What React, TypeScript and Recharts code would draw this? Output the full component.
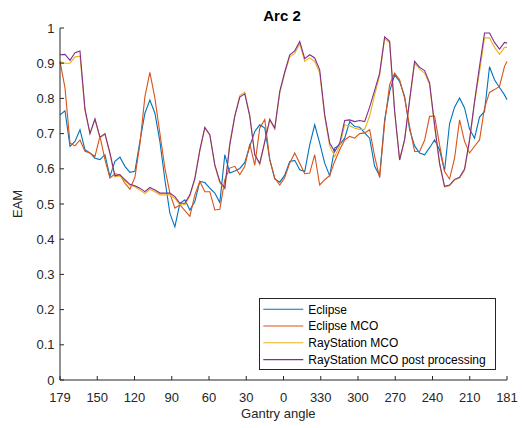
import React from "react";
import { LineChart, Line, XAxis, YAxis } from "recharts";

// gantry angle of every sample, going 179 -> 0 -> 360 -> 181
const gantryAngles = [
  179, 175, 171, 167, 163, 159, 155, 151, 147, 143,
  139, 135, 131, 127, 123, 119, 115, 111, 107, 103,
  99, 95, 91, 87, 83, 79, 75, 71, 67, 63,
  59, 55, 51, 47, 43, 39, 35, 31, 27, 23,
  19, 15, 11, 7, 3, 359, 355, 351, 347, 343,
  339, 335, 331, 327, 323, 319, 315, 311, 307, 303,
  299, 295, 291, 287, 283, 279, 275, 271, 267, 263,
  259, 255, 251, 247, 243, 239, 235, 231, 227, 223,
  219, 215, 211, 207, 203, 199, 195, 191, 187, 183,
  181,
];

const eclipse = [
  0.753, 0.765, 0.664, 0.678, 0.711, 0.654, 0.645, 0.63, 0.626, 0.64,
  0.578, 0.621, 0.633, 0.607, 0.59, 0.593, 0.678, 0.758, 0.795, 0.758,
  0.678, 0.569, 0.474, 0.435, 0.502, 0.512, 0.483, 0.507, 0.564, 0.561,
  0.545, 0.531, 0.504, 0.64, 0.588, 0.594, 0.601, 0.618, 0.664, 0.706,
  0.725, 0.716, 0.626, 0.571, 0.562, 0.582, 0.621, 0.624, 0.597, 0.592,
  0.668, 0.725, 0.673, 0.616, 0.58, 0.659, 0.668, 0.687, 0.734, 0.72,
  0.718, 0.702, 0.687, 0.607, 0.58, 0.739, 0.82, 0.867, 0.848, 0.806,
  0.711, 0.665, 0.645, 0.64, 0.66, 0.682, 0.654, 0.595, 0.728, 0.775,
  0.801, 0.773, 0.713, 0.687, 0.747, 0.763, 0.89, 0.853, 0.831, 0.81,
  0.796,
];

const eclipseMco = [
  0.905, 0.83, 0.673, 0.665, 0.682, 0.65, 0.645, 0.635, 0.692, 0.626,
  0.574, 0.586, 0.583, 0.559, 0.542, 0.576, 0.67, 0.805, 0.874, 0.801,
  0.701, 0.602, 0.531, 0.488, 0.498, 0.481, 0.465, 0.526, 0.564, 0.535,
  0.535, 0.483, 0.485, 0.569, 0.602, 0.607, 0.583, 0.607, 0.671, 0.61,
  0.716, 0.74, 0.626, 0.574, 0.554, 0.575, 0.616, 0.645, 0.616, 0.586,
  0.588, 0.64, 0.554, 0.569, 0.581, 0.621, 0.654, 0.682, 0.692, 0.687,
  0.7, 0.702, 0.711, 0.635, 0.575, 0.73, 0.839, 0.872, 0.853, 0.801,
  0.72, 0.649, 0.649, 0.681, 0.749, 0.75, 0.668, 0.592, 0.571, 0.63,
  0.739, 0.678, 0.645, 0.664, 0.682, 0.773, 0.817, 0.825, 0.834, 0.891,
  0.905,
];

const rayStationMco = [
  0.905, 0.9, 0.9, 0.918, 0.92, 0.765, 0.7, 0.74, 0.688, 0.698,
  0.642, 0.578, 0.58, 0.566, 0.553, 0.549, 0.54, 0.53, 0.542, 0.535,
  0.526, 0.526, 0.526, 0.516, 0.498, 0.498, 0.522, 0.57, 0.65, 0.716,
  0.695, 0.609, 0.56, 0.543, 0.675, 0.752, 0.808, 0.818, 0.752, 0.64,
  0.612, 0.675, 0.738, 0.712, 0.815, 0.872, 0.918, 0.928, 0.955, 0.905,
  0.915, 0.905, 0.872, 0.748, 0.665, 0.635, 0.665, 0.725, 0.722, 0.715,
  0.712, 0.712, 0.75, 0.81, 0.865, 0.97, 0.958, 0.762, 0.625, 0.683,
  0.792, 0.9, 0.883, 0.872, 0.84, 0.72, 0.612, 0.548, 0.552, 0.568,
  0.574, 0.596, 0.68, 0.788, 0.875, 0.972, 0.972, 0.945, 0.925, 0.945,
  0.945,
];

const rayStationPost = [
  0.924, 0.925, 0.908, 0.93, 0.935, 0.77, 0.7, 0.742, 0.69, 0.7,
  0.645, 0.58, 0.583, 0.569, 0.556, 0.552, 0.545, 0.535, 0.547, 0.54,
  0.531, 0.531, 0.531, 0.521, 0.502, 0.502, 0.526, 0.573, 0.654, 0.718,
  0.697, 0.611, 0.564, 0.545, 0.668, 0.749, 0.804, 0.813, 0.749, 0.64,
  0.616, 0.678, 0.741, 0.716, 0.82, 0.875, 0.924, 0.935, 0.962, 0.913,
  0.924, 0.915, 0.881, 0.754, 0.673, 0.649, 0.673, 0.737, 0.739, 0.734,
  0.737, 0.734, 0.775, 0.823, 0.872, 0.975, 0.962, 0.765, 0.625, 0.683,
  0.796, 0.905, 0.888, 0.879, 0.844, 0.725, 0.616, 0.55, 0.554, 0.57,
  0.576, 0.599, 0.682, 0.791, 0.891, 0.986, 0.986, 0.959, 0.94, 0.959,
  0.957,
];

const xTickLabels = ["179", "150", "120", "90", "60", "30", "0", "330", "300", "270", "240", "210", "181"];
const yTicks = [0, 0.1, 0.2, 0.3, 0.4, 0.5, 0.6, 0.7, 0.8, 0.9, 1];

const series = [
  { key: "eclipse", name: "Eclipse", color: "#0072BD" },
  { key: "eclipseMco", name: "Eclipse MCO", color: "#D95319" },
  { key: "rayStationMco", name: "RayStation MCO", color: "#EDB120" },
  { key: "rayStationPost", name: "RayStation MCO post processing", color: "#7E2F8E" },
];

// position along the arc, 0 at 179 deg, 358 at 181 deg
const toOffset = (angle: number) => (179 - angle + 360) % 360;
const SPAN = 358;
const xTicks = xTickLabels.map((_, i) => (i * SPAN) / 12);

const data = gantryAngles.map((a, i) => ({
  x: toOffset(a),
  eclipse: eclipse[i],
  eclipseMco: eclipseMco[i],
  rayStationMco: rayStationMco[i],
  rayStationPost: rayStationPost[i],
}));

const AXIS = "#262626";
const FONT = "'Liberation Sans', Arial, Helvetica, sans-serif";

const XTick = (props: any) => {
  const { x, y, payload } = props;
  const idx = Math.round((payload.value * 12) / SPAN);
  return (
    <g>
      <line x1={x} x2={x} y1={y} y2={y - 4} stroke={AXIS} />
      <text x={x} y={y + 21.5} textAnchor="middle" fontSize={13} fill={AXIS} fontFamily={FONT}>
        {xTickLabels[idx]}
      </text>
    </g>
  );
};

const YTick = (props: any) => {
  const { x, y, payload } = props;
  return (
    <g>
      <line x1={x} x2={x + 4} y1={y} y2={y} stroke={AXIS} />
      <text x={x - 5.5} y={y + 4.6} textAnchor="end" fontSize={13} fill={AXIS} fontFamily={FONT}>
        {String(Number(payload.value.toFixed(1)))}
      </text>
    </g>
  );
};

const W = 514;
const H = 420;

export default function App() {
  // fixed so the page itself never gets a scrollbar
  return (
    <div style={{ position: "fixed", left: 8, top: 8, width: W, height: H, background: "#fff" }}>
      <LineChart width={W} height={H} data={data} margin={{ top: 20, right: 15, bottom: 0, left: 0 }}>
        <XAxis
          type="number"
          dataKey="x"
          domain={[0, SPAN]}
          ticks={xTicks}
          interval={0}
          tickLine={false}
          tickSize={0}
          tickMargin={0}
          height={48}
          axisLine={{ stroke: AXIS }}
          tick={<XTick />}
        />
        <YAxis
          type="number"
          domain={[0, 1]}
          ticks={yTicks}
          interval={0}
          tickLine={false}
          tickSize={0}
          tickMargin={0}
          width={52}
          axisLine={{ stroke: AXIS }}
          tick={<YTick />}
        />
        {series.map((s) => (
          <Line
            key={s.key}
            type="linear"
            dataKey={s.key}
            name={s.name}
            stroke={s.color}
            strokeWidth={1.1}
            dot={false}
            isAnimationActive={false}
          />
        ))}
      </LineChart>
      <svg
        width={W}
        height={H}
        style={{ position: "absolute", left: 0, top: 0, pointerEvents: "none" }}
        fontFamily={FONT}
      >
        <text x={274} y={13.3} textAnchor="middle" fontSize={15} fontWeight="bold" fill="#000">
          Arc 2
        </text>
        <text x={270.3} y={410.3} textAnchor="middle" fontSize={13} fill={AXIS}>
          Gantry angle
        </text>
        <text
          x={13.7}
          y={196}
          textAnchor="middle"
          fontSize={13}
          fill={AXIS}
          transform="rotate(-90 13.7 196)"
        >
          EAM
        </text>
        <rect x={251.5} y={290.5} width={236} height={71} fill="#fff" stroke={AXIS} strokeWidth={1} />
        {series.map((s, i) => {
          const cy = 301.2 + i * 16.8;
          return (
            <g key={s.key}>
              <line x1={255.3} x2={295.3} y1={cy} y2={cy} stroke={s.color} strokeWidth={1.1} />
              <text x={300.3} y={cy + 4.3} fontSize={12} fill="#000">
                {s.name}
              </text>
            </g>
          );
        })}
      </svg>
    </div>
  );
}
